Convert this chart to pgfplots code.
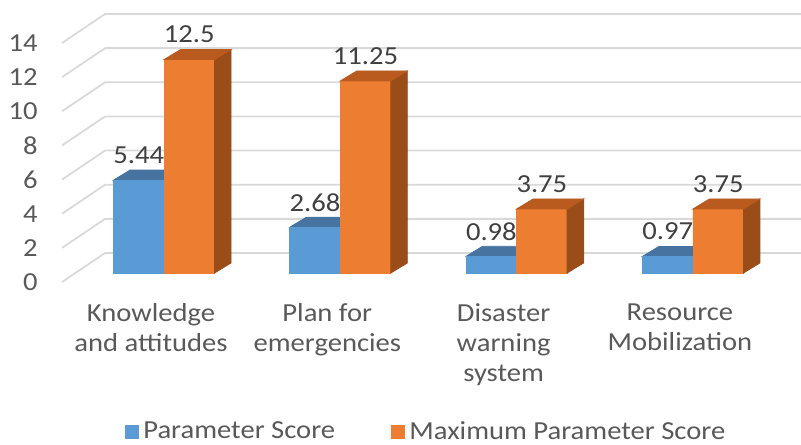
\documentclass[border=0pt]{standalone}
\usepackage{fontspec}
\setmainfont{Carlito}[FakeStretch=1.1]
\usepackage{pgfplots}
\usepackage{pgfplotstable}
\pgfplotsset{compat=1.18}

\definecolor{barblue}{HTML}{5B9BD5}
\definecolor{bluetop}{HTML}{4673A0}
\definecolor{blueside}{HTML}{3E6A94}
\definecolor{barorange}{HTML}{ED7D31}
\definecolor{orangetop}{HTML}{B95A1F}
\definecolor{orangeside}{HTML}{9A4C19}
\definecolor{gridgray}{HTML}{D9D9D9}
\definecolor{txtgray}{HTML}{595959}
\definecolor{lblgray}{HTML}{404040}

% scores per category
\pgfplotstableread{
x pv pmax
0 5.44 12.5
1 2.68 11.25
2 0.98 3.75
3 0.97 3.75
}\scores

% 3d boxes, mark sits at (category, value); marks are drawn after all bars,
% so each box carries its own front face too
% 1px of the reference = 0.5pt here; y unit = 8.536pt
\pgfdeclareplotmark{blueblock}{%
  \pgfmathsetlengthmacro\bh{\yval*8.536}%
  \fill[blueside] (0pt,0pt) -- (0pt,-\bh) -- (8.25pt,-\bh+5pt) -- (8.25pt,5pt) -- cycle;
  \fill[bluetop] (-25.25pt,0pt) -- (0pt,0pt) -- (8.25pt,5pt) -- (-17pt,5pt) -- cycle;
  \fill[barblue] (-25.25pt,0pt) rectangle (0pt,-\bh);
}
\pgfdeclareplotmark{orangeblock}{%
  \pgfmathsetlengthmacro\bh{\yval*8.536}%
  \fill[barorange] (0pt,0pt) rectangle (25.25pt,-\bh);
  \fill[orangeside] (25.25pt,0pt) -- (25.25pt,-\bh) -- (33.5pt,-\bh+5pt) -- (33.5pt,5pt) -- cycle;
  \fill[orangetop] (0pt,0pt) -- (25.25pt,0pt) -- (33.5pt,5pt) -- (8.25pt,5pt) -- cycle;
}

\begin{document}
\begin{tikzpicture}[font=\fontsize{13}{15}\selectfont]
\path[use as bounding box] (0,0) rectangle (400.5pt,222pt);
\begin{axis}[
    at={(37.93pt,85.5pt)}, anchor=south west,
    x=88.15pt, y=8.536pt,
    xmin=-0.5, xmax=3.5,
    ymin=0, ymax=14,
    clip=false,
    axis line style={draw=none},
    tick style={draw=none},
    major tick length=0pt,
    bar width=25.25pt,
    ytick={0,2,...,14},
    xtick={0,1,2,3},
    xticklabels={{Knowledge\\and attitudes},{Plan for\\emergencies},{Disaster\\warning\\system},{Resource\\Mobilization}},
    xticklabel style={align=center, anchor=north, inner sep=0pt, yshift=-15.25pt, xshift=-6.5pt, text=txtgray},
    yticklabel style={anchor=east, inner sep=0pt, xshift=-18.9pt, yshift=-4.5pt, text=txtgray},
    /pgf/number format/assume math mode=true,
    legend columns=2,
    legend style={at={(0.498,-0.665)}, anchor=center, draw=none, fill=none,
        text=txtgray, /tikz/every even column/.append style={column sep=26pt}},
    legend image code/.code={\fill[#1] (0pt,-3.6pt) rectangle (7.2pt,3.6pt);},
]

% gridlines: left wall and back wall
\pgfplotsinvokeforeach{0,2,4,6,8,10,12,14}{
  \draw[gridgray, line width=0.9pt]
    ([shift={(-6.9pt,-4.5pt)}]axis cs:-0.5,#1) --
    ([shift={(14.6pt,10pt)}]axis cs:-0.5,#1) --
    ([shift={(10pt,10pt)}]axis cs:3.5,#1);
}

\addplot[ybar, bar shift=-12.625pt, fill=barblue, draw=none,
    nodes near coords={\pgfmathprintnumber[fixed,precision=2]{\pgfplotspointmeta}},
    every node near coord/.append style={anchor=center, xshift=-12.625pt, yshift=12.5pt,
        inner sep=0pt, text=lblgray, /pgf/number format/assume math mode=true}]
    table[x=x, y=pv]{\scores};
\addlegendentry{Parameter Score}

\addplot[ybar, bar shift=12.625pt, fill=barorange, draw=none,
    nodes near coords={\pgfmathprintnumber[fixed,precision=2]{\pgfplotspointmeta}},
    every node near coord/.append style={anchor=center, xshift=12.625pt, yshift=12.5pt,
        inner sep=0pt, text=lblgray, /pgf/number format/assume math mode=true}]
    table[x=x, y=pmax]{\scores};
\addlegendentry{Maximum Parameter Score}

\addplot[only marks, mark=blueblock, forget plot,
    visualization depends on={\thisrow{pv} \as \yval}]
    table[x=x, y=pv]{\scores};

\addplot[only marks, mark=orangeblock, forget plot,
    visualization depends on={\thisrow{pmax} \as \yval}]
    table[x=x, y=pmax]{\scores};

\end{axis}
\end{tikzpicture}
\end{document}
